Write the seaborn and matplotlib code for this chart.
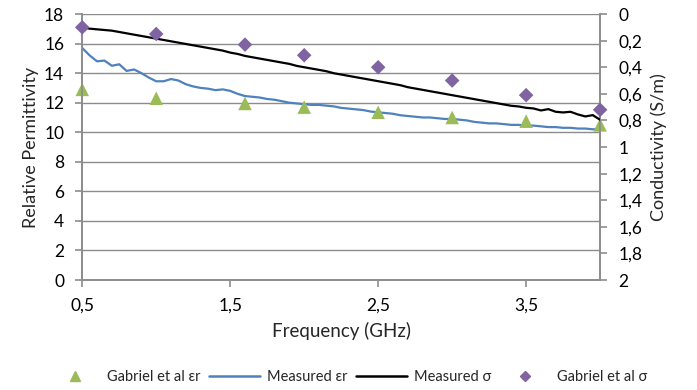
import matplotlib
matplotlib.use("Agg")
import matplotlib.pyplot as plt
from matplotlib.ticker import FuncFormatter, MultipleLocator
from matplotlib.lines import Line2D
import seaborn as sns
import pandas as pd

# Measured relative permittivity and conductivity (0.5 - 4.0 GHz, 0.05 GHz step)
freq = [round(0.5 + 0.05 * i, 2) for i in range(71)]
measured_eps = [
    15.7, 15.2, 14.8, 14.85, 14.5, 14.6, 14.15, 14.25, 14.0, 13.7,
    13.45, 13.45, 13.6, 13.5, 13.25, 13.1, 13.0, 12.95, 12.85, 12.9,
    12.8, 12.6, 12.45, 12.4, 12.35, 12.25, 12.2, 12.1, 12.0, 11.95,
    11.9, 11.85, 11.85, 11.8, 11.75, 11.65, 11.6, 11.55, 11.5, 11.4,
    11.35, 11.3, 11.25, 11.15, 11.1, 11.05, 11.0, 11.0, 10.95, 10.9,
    10.9, 10.85, 10.8, 10.7, 10.65, 10.6, 10.6, 10.55, 10.5, 10.5,
    10.45, 10.45, 10.4, 10.35, 10.35, 10.3, 10.3, 10.25, 10.25, 10.2,
    10.2,
]
measured_sigma = [
    0.100, 0.110, 0.115, 0.120, 0.125, 0.135, 0.145, 0.155, 0.165, 0.175,
    0.185, 0.195, 0.205, 0.215, 0.225, 0.235, 0.245, 0.255, 0.265, 0.275,
    0.290, 0.300, 0.315, 0.325, 0.335, 0.345, 0.355, 0.365, 0.375, 0.390,
    0.400, 0.410, 0.420, 0.430, 0.445, 0.455, 0.465, 0.475, 0.485, 0.495,
    0.505, 0.515, 0.525, 0.535, 0.550, 0.560, 0.570, 0.580, 0.590, 0.600,
    0.610, 0.620, 0.630, 0.640, 0.650, 0.660, 0.670, 0.680, 0.690, 0.695,
    0.705, 0.710, 0.725, 0.715, 0.735, 0.740, 0.735, 0.755, 0.770, 0.760,
    0.795,
]

# Gabriel et al reference values
gab_freq = [0.5, 1.0, 1.6, 2.0, 2.5, 3.0, 3.5, 4.0]
gab_eps = [12.9, 12.3, 11.95, 11.7, 11.35, 11.0, 10.75, 10.5]
gab_sigma = [0.10, 0.15, 0.23, 0.31, 0.40, 0.50, 0.61, 0.72]

meas = pd.DataFrame({"freq": freq, "eps": measured_eps, "sigma": measured_sigma})
gab = pd.DataFrame({"freq": gab_freq, "eps": gab_eps, "sigma": gab_sigma})

sns.set_theme(style="white")
plt.rcParams["font.family"] = ["Lato", "DejaVu Sans"]

green = "#9BBB59"
blue = "#4F81BD"
purple = "#8064A2"
grid_c = "#8C8C8C"

fig = plt.figure(figsize=(6.97, 3.90), dpi=100)
ax = fig.add_axes([0.118, 0.282, 0.743, 0.682])
ax2 = ax.twinx()

sns.lineplot(data=meas, x="freq", y="eps", ax=ax, color=blue, linewidth=1.6, zorder=3)
sns.scatterplot(data=gab, x="freq", y="eps", ax=ax, color=green, marker="^",
                s=95, edgecolor="none", zorder=4, clip_on=False)
sns.lineplot(data=meas, x="freq", y="sigma", ax=ax2, color="black", linewidth=1.6, zorder=3)
sns.scatterplot(data=gab, x="freq", y="sigma", ax=ax2, color=purple, marker="D",
                s=55, edgecolor="none", zorder=4, clip_on=False)

comma = FuncFormatter(lambda v, p: f"{v:g}".replace(".", ","))

ax.set_xlim(0.5, 4.0)
ax.set_ylim(0, 18)
ax.yaxis.set_major_locator(MultipleLocator(2))
ax.set_xticks([0.5, 1.5, 2.5, 3.5])
ax.xaxis.set_major_formatter(comma)
ax.yaxis.grid(True, color=grid_c, linewidth=1.0)
ax.set_axisbelow(True)

ax2.set_ylim(2, 0)
ax2.yaxis.set_major_locator(MultipleLocator(0.2))
ax2.yaxis.set_major_formatter(comma)

for a in (ax, ax2):
    a.spines["top"].set_visible(False)
    for side in ("left", "bottom", "right"):
        a.spines[side].set_color(grid_c)
        a.spines[side].set_linewidth(1.2)
    a.tick_params(length=5, width=1.2, color=grid_c, labelsize=12.5, labelcolor="black")
ax.tick_params(axis="both", direction="out", left=True, bottom=True, pad=8)
ax2.tick_params(axis="y", direction="out", right=True, pad=8)

ax.set_xlabel("Frequency (GHz)", fontsize=13.5, labelpad=6)
ax.set_ylabel("Relative Permittivity", fontsize=13, labelpad=4)
ax2.set_ylabel("Conductivity (S/m)", fontsize=13, labelpad=6)

handles = [
    Line2D([], [], color=green, marker="^", linestyle="none", markersize=7.5),
    Line2D([], [], color=blue, linewidth=1.8),
    Line2D([], [], color="black", linewidth=1.8),
    Line2D([], [], color=purple, marker="D", linestyle="none", markersize=5),
]
labels = ["Gabriel et al εr", "Measured εr", "Measured σ", "Gabriel et al σ"]
fig.legend(handles, labels, loc="center", bbox_to_anchor=(0.5, 0.033), ncol=4,
           frameon=False, fontsize=10.5, handlelength=3.5, columnspacing=0.6,
           handletextpad=0.45)

fig.savefig("out.png", dpi=100)
